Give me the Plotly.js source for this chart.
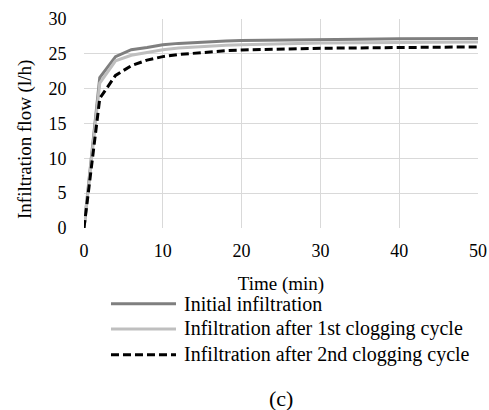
<!DOCTYPE html>
<html><head><meta charset="utf-8">
<script src="https://cdn.plot.ly/plotly-3.0.1.min.js"></script>
<style>html,body{margin:0;padding:0;background:#fff}#c{width:489px;height:410px}</style>
</head><body><div id="c"></div>
<script>
const time = [0,2,4,6,8,10,12,14,16,18,20,25,30,35,40,45,50];
const initialFlow = [0,21.6,24.6,25.6,25.9,26.3,26.5,26.65,26.75,26.85,26.9,27.0,27.05,27.1,27.15,27.15,27.2];
const firstCycleFlow = [0,20.8,24.0,24.8,25.2,25.6,25.85,26.0,26.15,26.25,26.3,26.45,26.55,26.6,26.65,26.7,26.7];
const secondCycleFlow = [0,18.6,21.9,23.3,24.1,24.6,24.9,25.1,25.3,25.45,25.55,25.7,25.8,25.85,25.9,25.95,26.0];
const seriesNames = ["Initial infiltration","Infiltration after 1st clogging cycle","Infiltration after 2nd clogging cycle"];
const yTicks = [0,5,10,15,20,25,30];
const xTicks = [0,10,20,30,40,50];
const xTitle = 'Time (min)';
const yTitle = 'Infiltration flow (l/h)';

const styles = [
  {color:'#7f7f7f', width:3, dash:'solid'},
  {color:'#bfbfbf', width:3, dash:'solid'},
  {color:'#000000', width:3, dash:'8px,4px'}
];
const ys = [initialFlow, firstCycleFlow, secondCycleFlow];
const traces = ys.map((y,i)=>({x:time, y:y, type:'scatter', mode:'lines', name:seriesNames[i], line:styles[i], showlegend:false}));

const fam = 'Liberation Serif';
const tickFont = {family:fam, size:18, color:'#000'};
const titleFont = {family:fam, size:19, color:'#000'};
const legFont = {family:fam, size:20, color:'#000'};
const shapes = [], annotations = [];
const rowY = [-0.362, -0.483, -0.606];
seriesNames.forEach((n,i)=>{
  shapes.push({type:'line', xref:'paper', yref:'paper', x0:0.0685, x1:0.2335, y0:rowY[i], y1:rowY[i], line:styles[i]});
  annotations.push({xref:'paper', yref:'paper', x:0.2487, y:rowY[i], xanchor:'left', yanchor:'middle', text:n, showarrow:false, font:legFont});
});
annotations.push({xref:'paper', yref:'paper', x:0.499, y:-0.815, xanchor:'center', yanchor:'middle', text:'(c)', showarrow:false, font:{family:fam, size:22, color:'#000'}});
annotations.push({xref:'paper', yref:'paper', x:-0.1497, y:0.421, xanchor:'center', yanchor:'middle', textangle:-90, text:yTitle, showarrow:false, font:titleFont});

const layout = {
  width:489, height:410,
  margin:{l:84, r:11, t:19, b:182},
  paper_bgcolor:'#fff', plot_bgcolor:'#fff',
  font:{family:fam, size:18, color:'#000'},
  showlegend:false,
  xaxis:{range:[0,50], tickvals:xTicks, ticktext:xTicks.map(String), showgrid:true, gridcolor:'#d9d9d9', gridwidth:1.3, zeroline:false, showline:false, ticks:'outside', ticklen:6, tickcolor:'rgba(0,0,0,0)', tickfont:tickFont,
    title:{text:xTitle, font:titleFont, standoff:17}},
  yaxis:{range:[0,30], tickvals:yTicks, ticktext:yTicks.map(String), showgrid:true, gridcolor:'#d9d9d9', gridwidth:1.3, zeroline:false, showline:false, ticks:'outside', ticklen:13, tickcolor:'rgba(0,0,0,0)', tickfont:tickFont},
  shapes:shapes, annotations:annotations
};
Plotly.newPlot('c', traces, layout, {staticPlot:true, displayModeBar:false});
</script></body></html>
